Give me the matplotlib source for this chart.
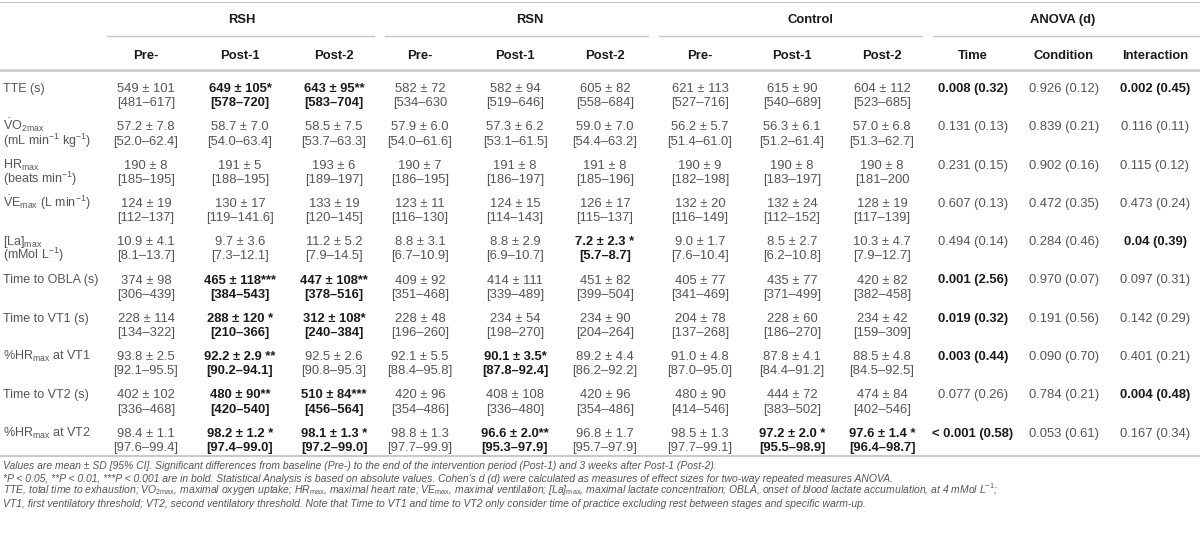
import matplotlib
matplotlib.use("Agg")
import matplotlib.pyplot as plt

plt.rcParams['font.family'] = ['Liberation Sans', 'DejaVu Sans']
plt.rcParams['mathtext.fontset'] = 'custom'
plt.rcParams['mathtext.rm'] = 'Liberation Sans'
plt.rcParams['mathtext.it'] = 'Liberation Sans:italic'
plt.rcParams['mathtext.bf'] = 'Liberation Sans:bold'

# table content
groups = ["RSH", "RSN", "Control", "ANOVA (d)"]
subheads = ["Pre-", "Post-1", "Post-2"] * 3 + ["Time", "Condition", "Interaction"]

row_labels = [
    ("TTE (s)", ""),
    (r"$\dot{\mathrm{V}}\mathrm{O}_{2\mathrm{max}}$", r"(mL min$^{-1}$ kg$^{-1}$)"),
    (r"HR$_{\mathrm{max}}$", r"(beats min$^{-1}$)"),
    (r"$\dot{\mathrm{V}}\mathrm{E}_{\mathrm{max}}$ (L min$^{-1}$)", ""),
    (r"[La]$_{\mathrm{max}}$", r"(mMol L$^{-1}$)"),
    ("Time to OBLA (s)", ""),
    ("Time to VT1 (s)", ""),
    (r"%HR$_{\mathrm{max}}$ at VT1", ""),
    ("Time to VT2 (s)", ""),
    (r"%HR$_{\mathrm{max}}$ at VT2", ""),
]

rsh_pre = [("549 ± 101", "[481–617]"), ("57.2 ± 7.8", "[52.0–62.4]"), ("190 ± 8", "[185–195]"),
           ("124 ± 19", "[112–137]"), ("10.9 ± 4.1", "[8.1–13.7]"), ("374 ± 98", "[306–439]"),
           ("228 ± 114", "[134–322]"), ("93.8 ± 2.5", "[92.1–95.5]"), ("402 ± 102", "[336–468]"),
           ("98.4 ± 1.1", "[97.6–99.4]")]
rsh_post1 = [("649 ± 105*", "[578–720]"), ("58.7 ± 7.0", "[54.0–63.4]"), ("191 ± 5", "[188–195]"),
             ("130 ± 17", "[119–141.6]"), ("9.7 ± 3.6", "[7.3–12.1]"), ("465 ± 118***", "[384–543]"),
             ("288 ± 120 *", "[210–366]"), ("92.2 ± 2.9 **", "[90.2–94.1]"), ("480 ± 90**", "[420–540]"),
             ("98.2 ± 1.2 *", "[97.4–99.0]")]
rsh_post2 = [("643 ± 95**", "[583–704]"), ("58.5 ± 7.5", "[53.7–63.3]"), ("193 ± 6", "[189–197]"),
             ("133 ± 19", "[120–145]"), ("11.2 ± 5.2", "[7.9–14.5]"), ("447 ± 108**", "[378–516]"),
             ("312 ± 108*", "[240–384]"), ("92.5 ± 2.6", "[90.8–95.3]"), ("510 ± 84***", "[456–564]"),
             ("98.1 ± 1.3 *", "[97.2–99.0]")]
rsn_pre = [("582 ± 72", "[534–630"), ("57.9 ± 6.0", "[54.0–61.6]"), ("190 ± 7", "[186–195]"),
           ("123 ± 11", "[116–130]"), ("8.8 ± 3.1", "[6.7–10.9]"), ("409 ± 92", "[351–468]"),
           ("228 ± 48", "[196–260]"), ("92.1 ± 5.5", "[88.4–95.8]"), ("420 ± 96", "[354–486]"),
           ("98.8 ± 1.3", "[97.7–99.9]")]
rsn_post1 = [("582 ± 94", "[519–646]"), ("57.3 ± 6.2", "[53.1–61.5]"), ("191 ± 8", "[186–197]"),
             ("124 ± 15", "[114–143]"), ("8.8 ± 2.9", "[6.9–10.7]"), ("414 ± 111", "[339–489]"),
             ("234 ± 54", "[198–270]"), ("90.1 ± 3.5*", "[87.8–92.4]"), ("408 ± 108", "[336–480]"),
             ("96.6 ± 2.0**", "[95.3–97.9]")]
rsn_post2 = [("605 ± 82", "[558–684]"), ("59.0 ± 7.0", "[54.4–63.2]"), ("191 ± 8", "[185–196]"),
             ("126 ± 17", "[115–137]"), ("7.2 ± 2.3 *", "[5.7–8.7]"), ("451 ± 82", "[399–504]"),
             ("234 ± 90", "[204–264]"), ("89.2 ± 4.4", "[86.2–92.2]"), ("420 ± 96", "[354–486]"),
             ("96.8 ± 1.7", "[95.7–97.9]")]
con_pre = [("621 ± 113", "[527–716]"), ("56.2 ± 5.7", "[51.4–61.0]"), ("190 ± 9", "[182–198]"),
           ("132 ± 20", "[116–149]"), ("9.0 ± 1.7", "[7.6–10.4]"), ("405 ± 77", "[341–469]"),
           ("204 ± 78", "[137–268]"), ("91.0 ± 4.8", "[87.0–95.0]"), ("480 ± 90", "[414–546]"),
           ("98.5 ± 1.3", "[97.7–99.1]")]
con_post1 = [("615 ± 90", "[540–689]"), ("56.3 ± 6.1", "[51.2–61.4]"), ("190 ± 8", "[183–197]"),
             ("132 ± 24", "[112–152]"), ("8.5 ± 2.7", "[6.2–10.8]"), ("435 ± 77", "[371–499]"),
             ("228 ± 60", "[186–270]"), ("87.8 ± 4.1", "[84.4–91.2]"), ("444 ± 72", "[383–502]"),
             ("97.2 ± 2.0 *", "[95.5–98.9]")]
con_post2 = [("604 ± 112", "[523–685]"), ("57.0 ± 6.8", "[51.3–62.7]"), ("190 ± 8", "[181–200"),
             ("128 ± 19", "[117–139]"), ("10.3 ± 4.7", "[7.9–12.7]"), ("420 ± 82", "[382–458]"),
             ("234 ± 42", "[159–309]"), ("88.5 ± 4.8", "[84.5–92.5]"), ("474 ± 84", "[402–546]"),
             ("97.6 ± 1.4 *", "[96.4–98.7]")]
anova_time = ["0.008 (0.32)", "0.131 (0.13)", "0.231 (0.15)", "0.607 (0.13)", "0.494 (0.14)",
              "0.001 (2.56)", "0.019 (0.32)", "0.003 (0.44)", "0.077 (0.26)", "< 0.001 (0.58)"]
anova_cond = ["0.926 (0.12)", "0.839 (0.21)", "0.902 (0.16)", "0.472 (0.35)", "0.284 (0.46)",
              "0.970 (0.07)", "0.191 (0.56)", "0.090 (0.70)", "0.784 (0.21)", "0.053 (0.61)"]
anova_inter = ["0.002 (0.45)", "0.116 (0.11)", "0.115 (0.12)", "0.473 (0.24)", "0.04 (0.39)",
               "0.097 (0.31)", "0.142 (0.29)", "0.401 (0.21)", "0.004 (0.48)", "0.167 (0.34)"]

# (row, column) of cells in bold
bold_cells = {(0, 1), (0, 2), (0, 9), (0, 11),
              (4, 5), (4, 11),
              (5, 1), (5, 2), (5, 9),
              (6, 1), (6, 2), (6, 9),
              (7, 1), (7, 4), (7, 9),
              (8, 1), (8, 2), (8, 11),
              (9, 1), (9, 2), (9, 4), (9, 7), (9, 8), (9, 9)}

footnotes = [
    "Values are mean ± SD [95% CI]. Significant differences from baseline (Pre-) to the end of the intervention period (Post-1) and 3 weeks after Post-1 (Post-2).",
    "*P < 0.05, **P < 0.01, ***P < 0.001 are in bold. Statistical Analysis is based on absolute values. Cohen's d (d) were calculated as measures of effect sizes for two-way repeated measures ANOVA.",
    r"TTE, total time to exhaustion; $\dot{V}O_{\mathrm{2max}}$, maximal oxygen uptake; HR$_{\mathrm{max}}$, maximal heart rate; $\dot{V}E_{\mathrm{max}}$, maximal ventilation; [La]$_{\mathrm{max}}$, maximal lactate concentration; OBLA, onset of blood lactate accumulation, at 4 mMol L$^{-1}$;",
    "VT1, first ventilatory threshold; VT2, second ventilatory threshold. Note that Time to VT1 and time to VT2 only consider time of practice excluding rest between stages and specific warm-up.",
]

# layout in pixels
W, H = 1200, 535
col_x = [146, 240, 334, 420, 515, 605, 700, 792, 882, 973, 1064, 1155]
group_x = [242, 530, 810, 1063]
group_span = [(107, 374), (385, 648), (659, 922), (933, 1200)]
row_y0, row_dy, line_dy = 92, 38.3, 14.3
grey, dark, rule = "#555555", "#1a1a1a", "#c8c8c8"
fs, fs_lab, fs_note = 9.4, 9.0, 7.45

fig = plt.figure(figsize=(W / 100, H / 100), dpi=100)
ax = fig.add_axes([0, 0, 1, 1])
ax.set_xlim(0, W)
ax.set_ylim(H, 0)
ax.axis("off")

# rules
ax.plot([0, W], [2, 2], color=rule, lw=0.9)
for x0, x1 in group_span:
    ax.plot([x0, x1], [36, 36], color=rule, lw=1.0)
ax.plot([0, W], [70, 70], color=rule, lw=1.8)
ax.plot([0, W], [456, 456], color=rule, lw=1.4)

for gx, g in zip(group_x, groups):
    ax.text(gx, 23, g, ha="center", va="baseline", fontsize=fs, fontweight="bold", color=dark)
for cx, s in zip(col_x, subheads):
    ax.text(cx, 59, s, ha="center", va="baseline", fontsize=fs, fontweight="bold", color=dark)

columns = [rsh_pre, rsh_post1, rsh_post2, rsn_pre, rsn_post1, rsn_post2,
           con_pre, con_post1, con_post2]
anova = [anova_time, anova_cond, anova_inter]

for i, (l1, l2) in enumerate(row_labels):
    y = row_y0 + i * row_dy
    ax.text(3, y, l1, ha="left", va="baseline", fontsize=fs_lab, color=grey)
    if l2:
        ax.text(3, y + line_dy, l2, ha="left", va="baseline", fontsize=fs_lab, color=grey)
    for j, col in enumerate(columns):
        b = (i, j) in bold_cells
        kw = dict(ha="center", va="baseline", fontsize=fs,
                  fontweight="bold" if b else "normal", color=dark if b else grey)
        ax.text(col_x[j], y, col[i][0], **kw)
        ax.text(col_x[j], y + line_dy, col[i][1], **kw)
    for k, col in enumerate(anova):
        j = 9 + k
        b = (i, j) in bold_cells
        ax.text(col_x[j], y, col[i], ha="center", va="baseline", fontsize=fs,
                fontweight="bold" if b else "normal", color=dark if b else grey)

for k, t in enumerate(footnotes):
    ax.text(3, 469 + k * 12.6, t, ha="left", va="baseline", fontsize=fs_note,
            style="italic", color=grey)

fig.savefig("out.png", dpi=100)
